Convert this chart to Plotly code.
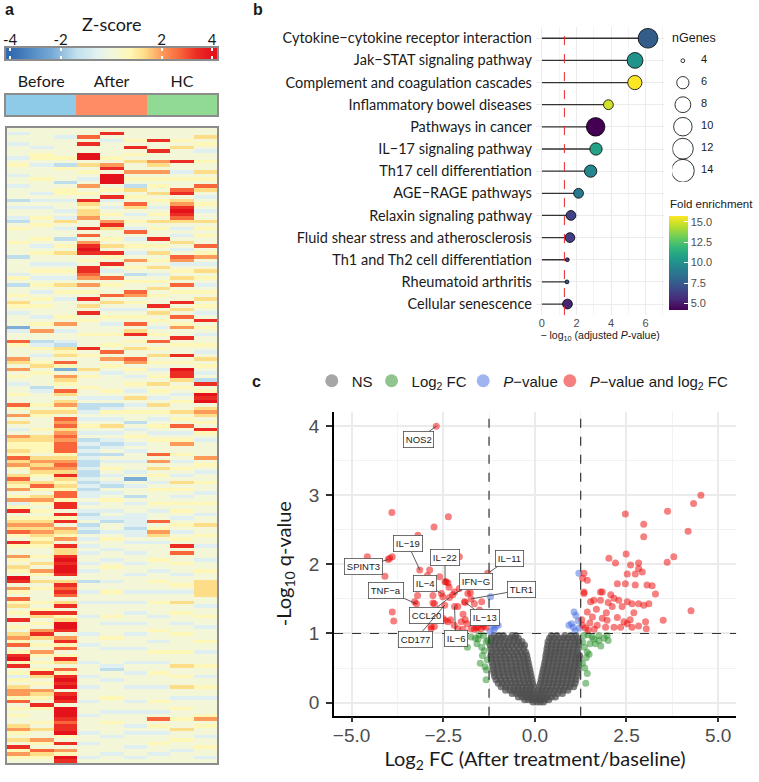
import math
import plotly.graph_objects as go

# ── Panel a: heatmap (9 samples, rows top→bottom, coded z-score levels) ──
LEVELS = {'B': -2.3, 'b': -1.4, 'c': -0.6, '.': 0.1, 'y': 0.7,
          'Y': 1.3, 'o': 2.0, 'O': 2.7, 'r': 3.4, 'R': 4.0}
N_ROWS = 180

before1 = (".c..c...c. y..c..c... b.c..cb.y. ..y...b... .cy.b..y.Y y.c...Bc.. "
           "Oy...oY.o. y.c..y..Oy .o.Y.c.oYy yYyOYoy.YO Yyo.yocyr. yYoYOy.ry. "
           ".oy.Yy.Rr. oy.OyY.y.r .y.YoyO.yr Ryr.ycy.Yo oyO.y.y..Y oy.Y.ryoy.")
before2 = (".....c.yy. c...y...c. c.c..y.y.. .y.c.y..c. y.c.y.c.y. y..c.y.o.. "
           "bcy.c.yY.y ...bc...y. Yy...y.YYy yy.YoYoYy. YOy.Yoy.y. yYoYoYyYy. "
           ".y.Y.oy.Y. y...y.yrY. y.orY.y.oy .y.yrY.y.o Yy.ry...y. Y..oy.OYy.")
before3 = ("..c.....y. by...b.yy. c..c.cY.c. .b.y.Y..c. y.c.Y.y.c. ...y.o.c.. "
           "cbYyY.OyB. oYy.OY.Yoy Y.OoOYoOoO OOyYoOoYrY yYyOOyrr.r yr.oYyo.rY "
           "YrRrRRr.Yr OrO.Yr.ryY RRr.oryO.y rY.OyrRrR. rRr.RRRrOr rRy.r.oyRr")
after1 = ("..O.r..RR. Y.y.c.o.y. rYyYYo..r. O.orRr.y.r rOo.o.y.r. Y.r.y...y. "
          "..r.y...Y. y..y..c.bb c.c.y.c.bc bcbcbbcbbc bcbcc.c.cb c.bcb.c.c. "
          "c..c.c..b. .c..c...c. ...c..c... .c...c..c. ..c...c... .c..c...c.")
after2 = (".r.c....y. or.RRR.y.r c.c.y.orY. .y.Y.ry.r. c.O.y..O.Y .c.y.c..y. "
          ".y.O.o.y.c ....y.c.bc y.c.Y.c.cb c.b.c.y.c. cb.c.y..c. cb..c.y..c "
          "..c.y...c. .y..c...y. c...y..c.. ..cb..c... .y...c..y. ..c....c..")
after3 = ("...y.r.y.Y ..o.y.bY.y .OY.c.y.cO .c.y.c.o.y .b.y..Oo.y .c.y.O.Yr. "
          "y.Y..Oo.y. c.y.c.Y.c. y..b.c.y.c .c..c..c.B .c..b.c..c cccbcc.c.. "
          "c..c..c... .c..c..c.. c..c...c.. .c..c...c. ..c..c...c .c...c..c.")
hc1 = ("...r..r..o Y.o.y.y.Y. y.c.y.Y.y. .r.y.Y.y.Y .c.y.Y.y.. r.Y.y.c.y. "
       "O.y.Y.y.c. y.Y.y.c.Y. y.c.y.c.y. ..O.o.Y.y. c.y...y.c. .O.yoY.c.. "
       "..y..c..y. .c..y...c. ..y..c..y. .c..y...c. ..y..c.O.y .c..y..c..")
hc2 = ("...y.Y...r ..c.y..Or. YorRrOY.c. c.Y.c.Ooc. y.Y.O.y..r .Y.O.yo..r "
       ".y..r.y.Rr rY.y.c.y.. Y.y.O.c.yo ..y.c.y.c. Y.y.c.y.y. c.y.c.y.r. "
       "O..y..c..y .c..Y..y.. c..y....y. ..Y..y..Y. .c..y..y.. Y..y..c...")
hc3 = ("..Y.y.c..y ..Y.y.OY.c .y.c..Y.y. y..O.yo.c. Y.y.c.y.Y. y.c.r.y.c. "
       ".y.c.Y.y.c .br.yRrR.Y oY.y.ry.c. ...o.y.c.. y..c..y..c ..Y..y..c. "
       "..c..y..YY YYY..c..y. .c...y..c. ..y..c..y. .c....yo.y ..c..y..c.")

heat_cols = [before1, before2, before3, after1, after2, after3, hc1, hc2, hc3]
sample_groups = ["Before"] * 3 + ["After"] * 3 + ["HC"] * 3
group_names = ["Before", "After", "HC"]
group_colors = ["#8DCBE8", "#FF8C64", "#90DA94"]
zscore_ticks = [-4, -2, 2, 4]
zscore_levels = [-4.5, -4, -3.5, -3, -2.5, -2, -1.5, -1, -0.5, 0,
                 0.5, 1, 1.5, 2, 2.5, 3, 3.5, 4, 4.5]

# ── Panel b: KEGG enrichment ──
pathways = ["Cytokine−cytokine receptor interaction", "Jak−STAT signaling pathway",
            "Complement and coagulation cascades", "Inflammatory bowel diseases",
            "Pathways in cancer", "IL−17 signaling pathway", "Th17 cell differentiation",
            "AGE−RAGE pathways", "Relaxin signaling pathway",
            "Fluid shear stress and atherosclerosis", "Th1 and Th2 cell differentiation",
            "Rheumatoid arthritis", "Cellular senescence"]
neglog_padj = [6.14, 5.39, 5.38, 3.85, 3.11, 3.13, 2.82, 2.12, 1.68, 1.62, 1.47, 1.45, 1.48]
n_genes = [11, 8, 7, 5, 10, 6, 6, 5, 5, 5, 4, 4, 5]
fold_enrich = [7.6, 10.1, 15.7, 14.9, 4.2, 10.8, 9.5, 8.8, 6.5, 6.3, 6.7, 7.3, 5.3]
ngenes_breaks = [4, 6, 8, 10, 12, 14]
fe_ticks = [5, 7.5, 10, 12.5, 15]

# ── Panel c: volcano ──
FC_CUT = 1.25
Q_CUT = 1.0
label_genes = ["NOS2", "IL−19", "SPINT3", "IL−22", "IL−11", "IFN−G", "TLR1",
               "TNF−a", "IL−4", "IL−13", "CCL20", "CD177", "IL−6"]
label_fc = [-2.69, -3.14, -4.00, -2.45, -1.29, -2.24, -1.74, -3.23, -2.55, -1.90, -2.33, -2.46, -2.19]
label_q = [4.00, 1.92, 2.07, 1.75, 1.87, 1.56, 1.50, 1.43, 1.58, 1.45, 1.52, 1.41, 1.39]
label_dx = [-18, -12, -25, 0, 22, 23, 50, -30, -16, 20, -23, -29, 1]
label_dy = [13, -26, 7, -24, -15, -13, -9, -13, -10, 15, 18, 34, 32]

red_pts = [(-4.57, 2.11), (-3.96, 2.09), (-3.89, 2.11), (-4.09, 1.83), (-3.89, 1.31), (-3.85, 1.18),
           (-3.90, 2.75), (-2.75, 2.54), (-2.36, 2.69), (-3.19, 2.42), (-2.87, 1.92), (-2.93, 1.84),
           (-3.28, 1.46), (-3.20, 1.55), (-2.78, 1.55), (-2.78, 1.44), (-2.60, 1.82), (-2.37, 1.73),
           (-2.51, 1.53), (-2.06, 1.65), (-2.06, 2.11), (-1.76, 1.59), (-1.45, 1.46), (-2.45, 1.19),
           (-2.37, 1.17), (-2.74, 1.10), (-2.83, 1.07), (-2.10, 1.07), (-1.96, 1.06), (-1.65, 1.06),
           (-1.56, 1.09), (-1.47, 1.07), (-1.33, 1.09), (-1.96, 1.28), (-2.42, 1.75), (-2.34, 1.67),
           (-2.74, 1.43), (-2.19, 1.60), (-1.83, 1.58), (-1.92, 1.46), (-1.65, 1.43), (-1.51, 1.34),
           (-1.38, 1.29), (-2.10, 1.39), (-2.51, 1.22), (-2.01, 1.17), (-1.85, 1.14), (-1.74, 1.07),
           (-1.60, 1.08), (-1.40, 1.10), (-2.83, 1.10), (-2.60, 1.34), (-2.62, 1.25), (-2.30, 1.20),
           (-2.20, 1.12), (-1.90, 1.20), (-1.55, 1.18), (-1.42, 1.14), (-2.90, 1.30),
           (4.53, 3.00), (4.33, 2.88), (3.62, 2.77), (2.47, 2.73), (2.97, 2.58), (2.97, 2.40),
           (4.18, 2.48), (2.02, 2.09), (2.20, 2.02), (2.49, 2.15), (2.61, 1.99), (2.83, 2.02),
           (2.83, 1.94), (2.52, 1.86), (2.74, 1.86), (2.93, 1.89), (3.61, 2.03), (3.79, 2.11),
           (4.26, 1.33), (3.50, 1.19), (3.02, 1.17), (3.04, 1.07), (3.29, 1.57), (3.06, 1.70),
           (3.20, 1.69), (2.74, 1.70), (2.47, 1.72), (2.25, 1.72), (1.84, 1.60), (1.61, 1.48),
           (1.79, 1.48), (2.07, 1.56), (2.16, 1.51), (2.29, 1.48), (2.52, 1.46), (2.65, 1.43),
           (2.83, 1.43), (2.97, 1.41), (3.11, 1.43), (2.38, 1.39), (2.11, 1.39), (1.43, 1.31),
           (1.57, 1.24), (1.84, 1.22), (1.97, 1.19), (2.25, 1.23), (2.43, 1.17), (2.52, 1.14),
           (2.83, 1.11), (2.65, 1.09), (2.34, 1.09), (2.16, 1.09), (1.93, 1.09), (1.30, 1.80),
           (1.34, 1.87), (1.43, 1.77), (1.34, 1.60), (1.52, 1.46), (1.34, 1.58), (1.79, 1.60),
           (1.50, 1.15), (1.38, 1.08), (1.45, 1.05), (1.62, 1.06), (1.70, 1.12), (1.30, 1.12),
           (1.28, 1.20), (2.70, 1.30), (2.60, 1.20), (1.95, 1.30), (1.68, 1.35), (2.00, 1.45)]
blue_pts = [(-1.21, 1.53), (-1.15, 1.12), (-1.08, 1.09), (-1.00, 1.12), (-1.12, 1.05), (-1.22, 1.03),
            (-1.05, 1.16), (1.20, 1.87), (1.07, 1.31), (1.12, 1.26), (0.93, 1.12), (1.05, 1.09),
            (1.18, 1.18), (1.10, 1.04), (1.22, 1.08), (1.00, 1.14)]
green_pts = [(-1.74, 0.95), (-1.84, 0.80), (-1.55, 0.92), (-1.40, 0.97), (-1.33, 0.88), (-1.45, 0.80),
             (-1.38, 0.75), (-1.49, 0.57), (-1.36, 0.52), (-1.32, 0.47), (-1.33, 0.33), (-1.62, 0.93),
             (-1.52, 0.98), (-1.43, 0.68), (-1.30, 0.62), (-1.28, 0.90), (-1.58, 0.85),
             (1.30, 0.88), (1.35, 0.80), (1.43, 0.73), (1.48, 0.70), (1.30, 0.57), (1.36, 0.50),
             (1.43, 0.42), (1.39, 0.28), (1.61, 0.92), (1.75, 0.90), (1.89, 0.93), (1.97, 0.97),
             (1.75, 0.97), (1.56, 0.95), (1.34, 0.97), (1.45, 0.98), (1.50, 0.85), (1.65, 0.85),
             (1.80, 0.82), (2.00, 0.90), (1.40, 0.65)]
# non-significant cloud, read row by row (q-value level, log2FC positions)
ns_rows = [
    (0.97, [-1.12, -0.98, -0.86, -0.62, -0.52, 0.45, 0.60, 0.82, 0.98, 1.12]),
    (0.93, [-1.18, -1.05, -0.92, -0.80, -0.68, -0.55, -0.45, 0.40, 0.52, 0.66, 0.78, 0.90, 1.03, 1.15]),
    (0.88, [-1.20, -1.08, -0.96, -0.84, -0.70, -0.58, -0.46, -0.35, 0.36, 0.48, 0.60, 0.72, 0.85, 0.97, 1.10, 1.20]),
    (0.83, [-1.22, -1.10, -0.98, -0.85, -0.74, -0.62, -0.50, -0.38, -0.28, 0.35, 0.46, 0.58, 0.70, 0.82, 0.95, 1.08, 1.19]),
    (0.78, [-1.20, -1.06, -0.94, -0.82, -0.70, -0.57, -0.44, -0.30, 0.33, 0.45, 0.57, 0.68, 0.80, 0.93, 1.05, 1.18]),
    (0.73, [-1.18, -1.04, -0.90, -0.78, -0.64, -0.50, -0.38, -0.25, 0.32, 0.44, 0.55, 0.67, 0.79, 0.91, 1.03, 1.16]),
    (0.68, [-1.20, -1.08, -0.95, -0.83, -0.70, -0.58, -0.46, -0.33, -0.22, 0.30, 0.42, 0.53, 0.65, 0.77, 0.90, 1.02, 1.14, 1.22]),
    (0.63, [-1.19, -1.06, -0.93, -0.80, -0.68, -0.55, -0.42, -0.30, -0.20, 0.29, 0.40, 0.51, 0.63, 0.75, 0.87, 1.00, 1.12, 1.21]),
    (0.58, [-1.17, -1.04, -0.91, -0.78, -0.65, -0.52, -0.40, -0.28, -0.18, 0.27, 0.38, 0.50, 0.62, 0.74, 0.86, 0.98, 1.10, 1.20]),
    (0.53, [-1.15, -1.02, -0.90, -0.77, -0.64, -0.51, -0.39, -0.27, -0.16, 0.25, 0.36, 0.48, 0.60, 0.72, 0.84, 0.96, 1.08, 1.19]),
    (0.48, [-1.14, -1.01, -0.88, -0.75, -0.62, -0.50, -0.38, -0.25, -0.14, 0.23, 0.34, 0.46, 0.58, 0.70, 0.82, 0.94, 1.06, 1.18]),
    (0.43, [-1.12, -0.99, -0.86, -0.73, -0.60, -0.48, -0.35, -0.23, -0.12, 0.21, 0.32, 0.44, 0.56, 0.68, 0.80, 0.92, 1.04, 1.16]),
    (0.38, [-1.10, -0.97, -0.84, -0.71, -0.58, -0.46, -0.33, -0.21, -0.10, 0.19, 0.30, 0.42, 0.54, 0.66, 0.78, 0.90, 1.02, 1.14]),
    (0.33, [-1.06, -0.93, -0.80, -0.68, -0.55, -0.43, -0.31, -0.19, -0.08, 0.17, 0.28, 0.40, 0.52, 0.64, 0.76, 0.88, 1.00, 1.12]),
    (0.28, [-1.00, -0.88, -0.76, -0.64, -0.52, -0.40, -0.28, -0.17, -0.06, 0.15, 0.26, 0.38, 0.50, 0.62, 0.74, 0.86, 0.98, 1.10]),
    (0.23, [-0.92, -0.80, -0.68, -0.56, -0.45, -0.34, -0.23, -0.12, -0.03, 0.12, 0.23, 0.35, 0.47, 0.59, 0.71, 0.83, 0.95, 1.06]),
    (0.18, [-0.80, -0.68, -0.57, -0.46, -0.35, -0.25, -0.15, -0.05, 0.10, 0.20, 0.31, 0.42, 0.54, 0.66, 0.78, 0.90]),
    (0.13, [-0.62, -0.51, -0.41, -0.31, -0.21, -0.12, -0.03, 0.07, 0.17, 0.27, 0.38, 0.50, 0.62, 0.75]),
    (0.08, [-0.45, -0.35, -0.25, -0.16, -0.07, 0.04, 0.13, 0.23, 0.33, 0.45, 0.56]),
    (0.04, [-0.28, -0.18, -0.09, 0.00, 0.09, 0.18, 0.28, 0.38]),
    (0.01, [-0.05, 0.06, 0.15, 0.24]),
]

# ── Build figure ─────────────────────────────────────────────
W, H = 759, 782
CALI = "Lato"
ARIAL = "Liberation Sans"


def px_x(p):
    return p / W


def px_y(p):
    return 1 - p / H


zscale = [[0.0, "#3169B0"], [0.2, "#74A9D6"], [0.33, "#C2E0EE"], [0.43, "#E2F1F0"],
          [0.5, "#F2F7DC"], [0.59, "#FFF7B6"], [0.66, "#FEDF8A"], [0.75, "#FC9A5A"],
          [0.84, "#F8643A"], [0.92, "#EB2F24"], [1.0, "#E4121B"]]

fig = go.Figure()

# colour key strip
fig.add_trace(go.Heatmap(z=[zscore_levels, zscore_levels], x=zscore_levels, y=[0, 1],
                         colorscale=zscale, zmin=-4, zmax=4, zsmooth="best",
                         showscale=False, xaxis="x", yaxis="y"))

# group annotation bar
grp_idx = [group_names.index(g) for g in sample_groups]
grp_scale = [[0, group_colors[0]], [1 / 3, group_colors[0]], [1 / 3, group_colors[1]],
             [2 / 3, group_colors[1]], [2 / 3, group_colors[2]], [1, group_colors[2]]]
fig.add_trace(go.Heatmap(z=[grp_idx], x=list(range(9)), y=[0], colorscale=grp_scale,
                         zmin=0, zmax=2, showscale=False, xaxis="x2", yaxis="y2"))

# main heatmap
cols = [c.replace(" ", "").ljust(N_ROWS, ".")[:N_ROWS] for c in heat_cols]
zmat = [[LEVELS[c[r]] for c in cols] for r in range(N_ROWS)]
fig.add_trace(go.Heatmap(z=zmat, x=list(range(9)), y=list(range(N_ROWS)),
                         colorscale=zscale, zmin=-4, zmax=4, showscale=False,
                         xaxis="x3", yaxis="y3"))


def gene_size(n):
    return 3.8 * (1 + 5 * math.sqrt((n - 4) / 10))


# lollipop stems
sx, sy = [], []
for p, v in zip(pathways, neglog_padj):
    sx += [0, v, None]
    sy += [p, p, None]
fig.add_trace(go.Scatter(x=sx, y=sy, mode="lines", line=dict(color="#333333", width=1.3),
                         showlegend=False, xaxis="x4", yaxis="y4"))
fig.add_trace(go.Scatter(
    x=neglog_padj, y=pathways, mode="markers", showlegend=False, xaxis="x4", yaxis="y4",
    marker=dict(size=[gene_size(n) for n in n_genes], color=fold_enrich, opacity=1,
                colorscale="Viridis", line=dict(color="black", width=0.8), showscale=True,
                colorbar=dict(x=px_x(669), xanchor="left", y=px_y(216), yanchor="top",
                              len=94 / H, lenmode="fraction", thickness=19, outlinewidth=0,
                              xpad=0, ypad=0, ticks="inside", ticklen=4, tickcolor="white",
                              tickvals=fe_ticks, ticktext=[f"{t:.1f}" for t in fe_ticks],
                              tickfont=dict(family=ARIAL, size=11, color="#4D4D4D")))))

# size legend
fig.add_trace(go.Scatter(x=[0.22] * len(ngenes_breaks), y=ngenes_breaks, mode="markers",
                         marker=dict(size=[gene_size(n) for n in ngenes_breaks], opacity=1,
                                     color="rgba(0,0,0,0)", line=dict(color="black", width=0.8)),
                         showlegend=False, xaxis="x5", yaxis="y5"))
fig.add_trace(go.Scatter(x=[0.6] * len(ngenes_breaks), y=ngenes_breaks, mode="text",
                         text=[str(n) for n in ngenes_breaks], textposition="middle right",
                         textfont=dict(family=ARIAL, size=11, color="#1A1A1A"),
                         showlegend=False, xaxis="x5", yaxis="y5"))

# volcano
ns_x, ns_y = [], []
for q, xs in ns_rows:
    ns_x += xs
    ns_y += [q] * len(xs)
vol_sets = [
    ("NS", "#4D4D4D", ns_x, ns_y),
    ("Log<sub>2</sub> FC", "#228B22", [p[0] for p in green_pts], [p[1] for p in green_pts]),
    ("<i>P</i>−value", "#4169E1", [p[0] for p in blue_pts], [p[1] for p in blue_pts]),
    ("<i>P</i>−value and log<sub>2</sub> FC", "#EE0000",
     [p[0] for p in red_pts] + label_fc, [p[1] for p in red_pts] + label_q),
]
legend_left = [310, 370, 462, 549]   # left edge of each legend entry (px)
for name, col, xs, ys in vol_sets:
    fig.add_trace(go.Scatter(x=xs, y=ys, mode="markers", showlegend=False,
                             marker=dict(size=7, color=col, opacity=0.72 if name == "NS" else 0.5),
                             xaxis="x6", yaxis="y6"))
leg_layout = {}
for i, (name, col, xs, ys) in enumerate(vol_sets):
    key = "legend" if i == 0 else f"legend{i + 1}"
    fig.add_trace(go.Scatter(x=[None], y=[None], mode="markers", name=name, legend=key,
                             marker=dict(size=13, color=col, opacity=0.5),
                             xaxis="x6", yaxis="y6"))
    leg_layout[key] = dict(orientation="h", x=px_x(legend_left[i]), xanchor="left",
                           y=px_y(381), yanchor="middle", bgcolor="rgba(0,0,0,0)",
                           font=dict(family=ARIAL, size=15, color="#1A1A1A"))

# gene labels
for g, fx, fy, dx, dy in zip(label_genes, label_fc, label_q, label_dx, label_dy):
    fig.add_annotation(x=fx, y=fy, xref="x6", yref="y6", text=g, showarrow=True,
                       ax=dx, ay=dy, arrowhead=0, arrowwidth=0.8, arrowcolor="#333333",
                       standoff=0, font=dict(family=ARIAL, size=9.5, color="#1A1A1A"),
                       bgcolor="white", bordercolor="#4D4D4D", borderwidth=0.8, borderpad=2)

# threshold lines
fig.add_shape(type="line", xref="x4", yref="y4 domain", x0=-math.log10(0.05),
              x1=-math.log10(0.05), y0=0, y1=1, line=dict(color="#E8282B", width=1, dash="dash"))
for xv in (-FC_CUT, FC_CUT):
    fig.add_shape(type="line", xref="x6", yref="y6 domain", x0=xv, x1=xv, y0=0, y1=1,
                  line=dict(color="#333333", width=1.2, dash="dash"), layer="above")
fig.add_shape(type="line", xref="x6 domain", yref="y6", x0=0, x1=1, y0=Q_CUT, y1=Q_CUT,
              line=dict(color="#333333", width=1.2, dash="dash"), layer="above")


# panel letters / titles (explicit anchors: paper annotations otherwise auto-anchor)
def paper_text(txt, x, y, size, family, xanchor="center"):
    fig.add_annotation(x=px_x(x), y=px_y(y), xref="paper", yref="paper", text=txt,
                       showarrow=False, xanchor=xanchor, yanchor="middle",
                       font=dict(family=family, size=size, color="#1A1A1A"))


for txt, x, y in (("a", 7, 10), ("b", 256, 10), ("c", 255, 381)):
    paper_text(f"<b>{txt}</b>", x, y, 16, ARIAL)
paper_text("Z-score", 109, 24, 18, CALI)
paper_text("nGenes", 670, 38, 12.5, ARIAL, "left")
paper_text("Fold enrichment", 668, 204, 11.5, ARIAL, "left")

box = dict(showline=True, linecolor="#8C8C8C", linewidth=1.5, mirror=True)
fig.update_layout(
    width=W, height=H, margin=dict(l=0, r=0, t=0, b=0),
    paper_bgcolor="white", plot_bgcolor="rgba(0,0,0,0)", hovermode=False,
    font=dict(family=ARIAL),
    xaxis=dict(domain=[px_x(3), px_x(215)], range=[-4.16, 4.2], side="top",
               tickvals=zscore_ticks, ticktext=[str(t) for t in zscore_ticks],
               ticklabeloverflow="allow", ticklabelstandoff=-5,
               ticks="inside", ticklen=3, tickwidth=2,
               tickcolor="white", showline=True, linecolor="#8C8C8C", linewidth=1.5,
               mirror="ticks", showgrid=False, zeroline=False,
               tickfont=dict(family=CALI, size=15, color="#1A1A1A")),
    yaxis=dict(domain=[px_y(59), px_y(48)], range=[-0.5, 1.5], showticklabels=False,
               ticks="", showgrid=False, zeroline=False, **box),
    xaxis2=dict(domain=[px_x(3), px_x(215)], range=[-0.5, 8.5], side="top",
                tickvals=[grp_idx.index(i) + 1 for i in range(3)], ticktext=group_names,
                ticks="", showgrid=False, zeroline=False, anchor="y2",
                tickfont=dict(family=CALI, size=16, color="#1A1A1A"), **box),
    yaxis2=dict(domain=[px_y(115), px_y(95)], range=[-0.5, 0.5], showticklabels=False,
                ticks="", showgrid=False, zeroline=False, anchor="x2", **box),
    xaxis3=dict(domain=[px_x(4), px_x(215)], range=[-0.5, 8.5], showticklabels=False,
                ticks="", showgrid=False, zeroline=False, anchor="y3", **box),
    yaxis3=dict(domain=[px_y(763), px_y(128)], range=[N_ROWS - 0.5, -0.5], showticklabels=False,
                ticks="", showgrid=False, zeroline=False, anchor="x3", **box),
    xaxis4=dict(domain=[px_x(535), px_x(664)], range=[-0.35, 7.09], anchor="y4",
                tickvals=[0, 2, 4, 6], ticks="", showgrid=True, gridcolor="#EBEBEB",
                zeroline=False, showline=False,
                minor=dict(tickvals=[1, 3, 5, 7], showgrid=True, gridcolor="#F3F3F3", gridwidth=1),
                tickfont=dict(family=ARIAL, size=11, color="#4D4D4D"),
                title=dict(text="− log<sub>10</sub> (adjusted <i>P</i>-value)", standoff=2,
                           font=dict(family=ARIAL, size=10.5, color="#1A1A1A"))),
    yaxis4=dict(domain=[px_y(315.1), px_y(27.2)], anchor="x4", type="category",
                categoryorder="array", categoryarray=pathways, range=[12.5, -0.5],
                ticks="", showgrid=True, gridcolor="#EBEBEB", zeroline=False,
                ticklabelstandoff=3, tickfont=dict(family=CALI, size=14.5, color="#1A1A1A")),
    xaxis5=dict(domain=[px_x(672), px_x(720)], range=[0, 1], visible=False, anchor="y5"),
    yaxis5=dict(domain=[px_y(181.7), px_y(49.7)], range=[15, 3], visible=False, anchor="x5"),
    xaxis6=dict(domain=[px_x(332.3), px_x(736)], range=[-5.48, 5.49], anchor="y6",
                tickvals=[-5, -2.5, 0, 2.5, 5], tickformat=".1f", ticks="outside", ticklen=5,
                tickwidth=1.5, tickcolor="#333333", showline=True, linecolor="black",
                linewidth=1.5, showgrid=True, gridcolor="#EBEBEB", gridwidth=2, zeroline=False,
                ticklabelstandoff=-3,
                minor=dict(tickvals=[-3.75, -1.25, 1.25, 3.75], showgrid=True,
                           gridcolor="#F2F2F2", gridwidth=1),
                tickfont=dict(family=ARIAL, size=19, color="#4D4D4D"),
                title=dict(text="Log<sub>2</sub> FC (After treatment/baseline)", standoff=6,
                           font=dict(family=CALI, size=20, color="#1A1A1A"))),
    yaxis6=dict(domain=[px_y(715.7), px_y(411.7)], range=[-0.19, 4.21], anchor="x6",
                tickvals=[0, 1, 2, 3, 4], ticks="outside", ticklen=6, tickwidth=1.5,
                tickcolor="#333333", showline=True, linecolor="black", linewidth=1.5,
                showgrid=True, gridcolor="#EBEBEB", gridwidth=2, zeroline=False,
                ticklabelstandoff=3,
                minor=dict(tickvals=[0.5, 1.5, 2.5, 3.5], showgrid=True,
                           gridcolor="#F2F2F2", gridwidth=1),
                tickfont=dict(family=ARIAL, size=19, color="#4D4D4D"),
                title=dict(text="-Log<sub>10</sub> q-value", standoff=12,
                           font=dict(family=CALI, size=20, color="#1A1A1A"))),
    **leg_layout,
)

# the page body has a default 8px margin; drop it so the figure sits at the window origin
fig.write_html("out.html", config={"displayModeBar": False},
               post_script="document.body.style.margin='0';document.body.style.overflow='hidden';")
